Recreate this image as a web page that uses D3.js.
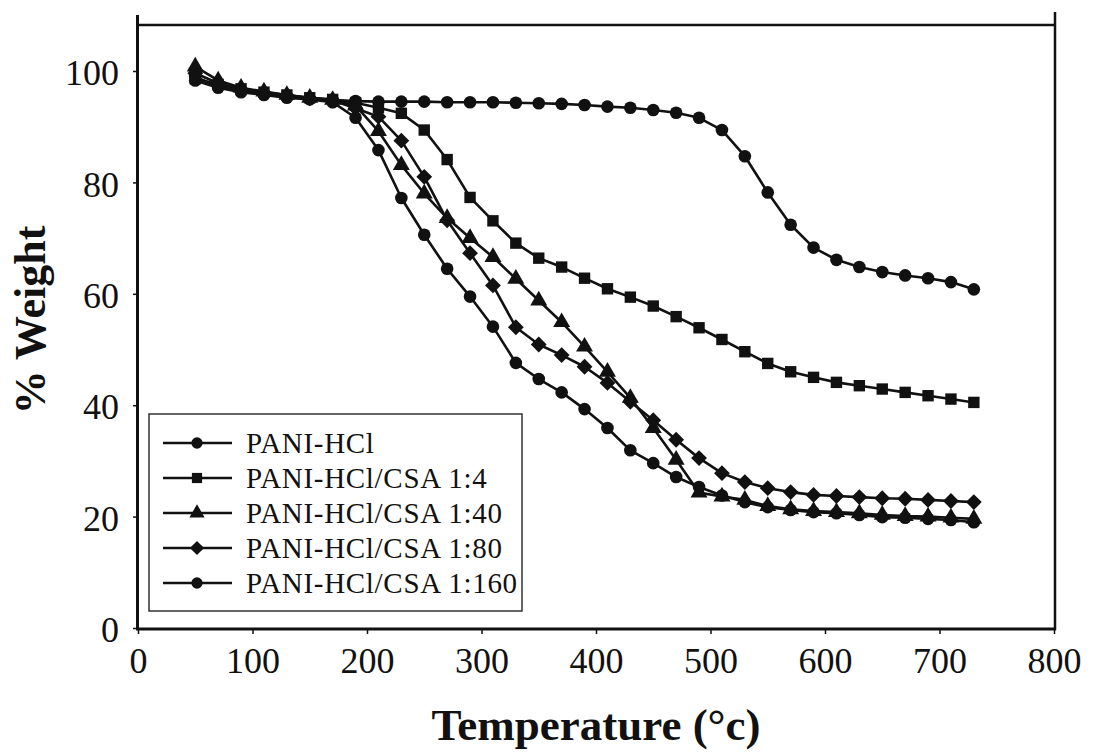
<!DOCTYPE html>
<html>
<head>
<meta charset="utf-8">
<script src="https://cdn.jsdelivr.net/npm/d3@7"></script>
<style>
  html, body { margin: 0; padding: 0; background: #fff; }
  svg { display: block; }
  text { font-family: "Liberation Serif", "Times New Roman", serif; fill: #111; }
</style>
</head>
<body>
<svg id="chart" width="1095" height="753"></svg>
<script>
// Thermogravimetric curves: temperature (°C) against remaining weight (%)
const temps = [50, 70, 90, 110, 130, 150, 170, 190, 210, 230, 250, 270, 290, 310, 330, 350, 370,
               390, 410, 430, 450, 470, 490, 510, 530, 550, 570, 590, 610, 630, 650, 670, 690, 710, 730];

const paniHCl = [99.0, 97.2, 96.4, 95.9, 95.4, 95.0, 94.8, 94.6, 94.5, 94.5, 94.5, 94.4, 94.4, 94.4, 94.3, 94.2, 94.1,
                 93.9, 93.6, 93.4, 93.0, 92.5, 91.6, 89.4, 84.7, 78.2, 72.4, 68.3, 66.1, 64.8, 63.9, 63.3, 62.8, 62.1, 60.8];

const csa1to4 = [98.6, 97.6, 96.8, 96.2, 95.7, 95.2, 94.9, 94.3, 93.4, 92.4, 89.4, 84.1, 77.3, 73.1, 69.1, 66.4, 64.8,
                 62.8, 60.9, 59.4, 57.8, 55.9, 53.9, 51.8, 49.6, 47.5, 46.0, 45.0, 44.1, 43.5, 42.9, 42.3, 41.7, 41.1, 40.5];

const csa1to40 = [100.8, 98.3, 97.0, 96.3, 95.7, 95.2, 94.8, 93.8, 89.2, 83.1, 78.0, 73.6, 70.0, 66.6, 62.7, 58.8, 54.9,
                  50.5, 46.0, 41.3, 35.9, 30.2, 24.3, 23.6, 23.0, 21.9, 21.3, 21.0, 20.8, 20.6, 20.3, 20.1, 20.0, 19.8, 19.6];

const csa1to80 = [99.6, 97.8, 96.7, 96.1, 95.6, 95.1, 94.7, 93.3, 91.8, 87.5, 81.0, 73.2, 67.3, 61.5, 54.0, 50.9, 49.0,
                  46.9, 44.0, 40.6, 37.3, 33.8, 30.5, 27.8, 26.2, 25.1, 24.4, 23.9, 23.7, 23.5, 23.3, 23.2, 23.0, 22.8, 22.6];

const csa1to160 = [98.3, 97.0, 96.2, 95.7, 95.2, 94.9, 94.4, 91.6, 85.8, 77.2, 70.6, 64.5, 59.5, 54.1, 47.6, 44.7, 42.3,
                   39.3, 35.9, 31.9, 29.6, 27.1, 25.3, 23.8, 22.6, 21.7, 21.2, 20.8, 20.6, 20.3, 19.9, 19.8, 19.6, 19.4, 19.0];

const seriesNames = ["PANI-HCl", "PANI-HCl/CSA 1:4", "PANI-HCl/CSA 1:40", "PANI-HCl/CSA 1:80", "PANI-HCl/CSA 1:160"];
const seriesValues = [paniHCl, csa1to4, csa1to40, csa1to80, csa1to160];

const xTicks = [0, 100, 200, 300, 400, 500, 600, 700, 800];
const yTicks = [0, 20, 40, 60, 80, 100];

const xTitle = "Temperature (°c)";
const yTitle = "% Weight";

// a diamond drawn as a square turned by 45°
const squareDiamond = {
  draw(context, size) {
    const r = Math.sqrt(size / 2);
    context.moveTo(0, -r);
    context.lineTo(r, 0);
    context.lineTo(0, r);
    context.lineTo(-r, 0);
    context.closePath();
  }
};

// marker shapes per series
const shapes = [d3.symbolCircle, d3.symbolSquare, d3.symbolTriangle, squareDiamond, d3.symbolCircle];
const shapeSizes = [125, 130, 125, 125, 125];

const svg = d3.select("#chart");
const ink = "#111";

const x = d3.scaleLinear().domain([0, 800]).range([138, 1054]);
const y = d3.scaleLinear().domain([0, 100]).range([628, 71]);

// axes (ticks and labels)
const xAxis = svg.append("g")
  .attr("transform", "translate(0,629)")
  .call(d3.axisBottom(x).tickValues(xTicks).tickSize(5).tickSizeOuter(0).tickPadding(13));
xAxis.select(".domain").remove();
xAxis.selectAll("text").style("font-size", "36px").attr("fill", ink);
xAxis.selectAll("line").attr("stroke", ink).attr("stroke-width", 1.5);

const yAxis = svg.append("g")
  .attr("transform", "translate(138,0)")
  .call(d3.axisLeft(y).tickValues(yTicks).tickSize(5).tickSizeOuter(0).tickPadding(14));
yAxis.select(".domain").remove();
yAxis.selectAll("text").style("font-size", "36px").attr("fill", ink).attr("dy", "0.38em");
yAxis.selectAll("line").attr("stroke", ink).attr("stroke-width", 1.5);

// plot frame
const frame = svg.append("g").attr("stroke", ink).attr("fill", "none");
frame.append("line").attr("x1", 137.5).attr("x2", 137.5).attr("y1", 15).attr("y2", 630).attr("stroke-width", 3);
frame.append("line").attr("x1", 136).attr("x2", 1056).attr("y1", 629).attr("y2", 629).attr("stroke-width", 3);
frame.append("line").attr("x1", 137).attr("x2", 1056).attr("y1", 25).attr("y2", 25).attr("stroke-width", 2.5);
frame.append("line").attr("x1", 1055).attr("x2", 1055).attr("y1", 12).attr("y2", 630).attr("stroke-width", 2.5);

// curves with markers
const line = d3.line().x(d => x(d[0])).y(d => y(d[1]));
seriesValues.forEach((vals, i) => {
  const pts = temps.map((t, j) => [t, vals[j]]);
  const g = svg.append("g");
  g.append("path").datum(pts)
    .attr("d", line)
    .attr("fill", "none")
    .attr("stroke", ink)
    .attr("stroke-width", 2.6)
    .attr("stroke-linejoin", "round");
  g.selectAll("path.mk").data(pts).join("path")
    .attr("class", "mk")
    .attr("transform", d => `translate(${x(d[0])},${y(d[1])})`)
    .attr("d", d3.symbol().type(shapes[i]).size(shapeSizes[i]))
    .attr("fill", ink);
});

// legend
const legend = svg.append("g");
legend.append("rect")
  .attr("x", 149).attr("y", 414).attr("width", 373).attr("height", 197)
  .attr("fill", "#fff").attr("stroke", "#333").attr("stroke-width", 1.5);
seriesNames.forEach((name, i) => {
  const base = 453 + i * 35;
  const cy = base - 10;
  legend.append("line")
    .attr("x1", 163).attr("x2", 232).attr("y1", cy).attr("y2", cy)
    .attr("stroke", ink).attr("stroke-width", 2.4);
  legend.append("path")
    .attr("transform", `translate(197,${cy})`)
    .attr("d", d3.symbol().type(shapes[i]).size(shapeSizes[i] * 0.8))
    .attr("fill", ink);
  legend.append("text")
    .attr("x", 246).attr("y", base)
    .style("font-size", "29px")
    .style("letter-spacing", "0.7px")
    .text(name);
});

// axis titles
svg.append("text")
  .attr("x", 596).attr("y", 740)
  .attr("text-anchor", "middle")
  .style("font-size", "45px").style("font-weight", "bold")
  .text(xTitle);

svg.append("text")
  .attr("transform", "translate(45,320) rotate(-90)")
  .attr("text-anchor", "middle")
  .style("font-size", "44px").style("font-weight", "bold")
  .text(yTitle);
</script>
</body>
</html>
